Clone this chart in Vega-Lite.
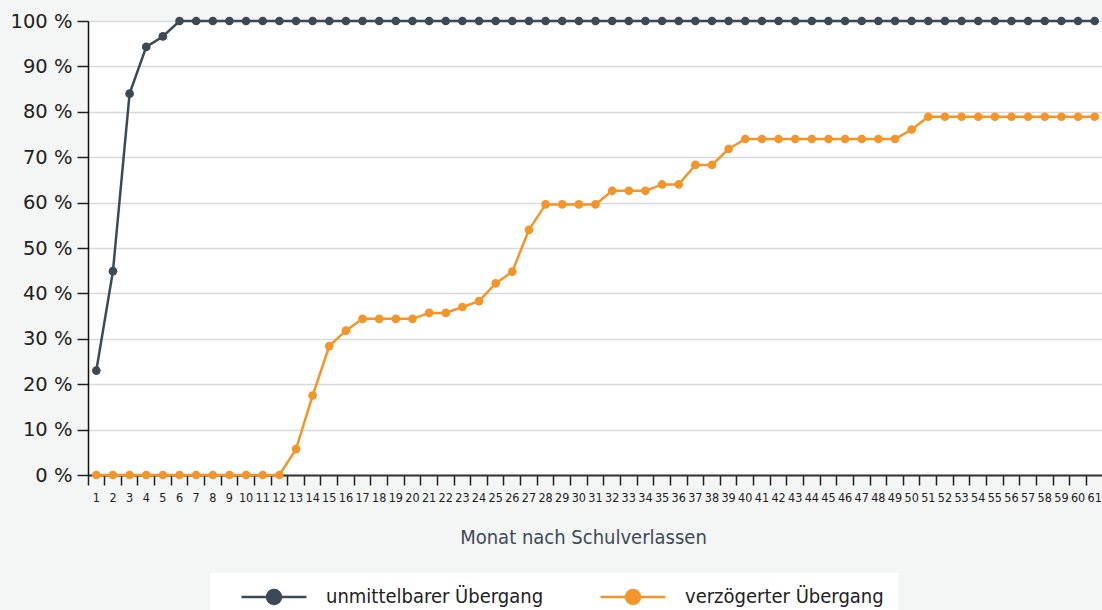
{
  "$schema": "https://vega.github.io/schema/vega-lite/v6.json",
  "autosize": {"type": "none"},
  "padding": {"left": 88, "top": 21, "right": 0, "bottom": 135},
  "width": 1015,
  "height": 454,
  "background": "#f4f5f5",
  "config": {
    "view": {"fill": "white", "stroke": "#222", "strokeWidth": 1},
    "font": "DejaVu Sans"
  },
  "data": {
    "values": [
      {"m": 1, "unmittelbarer Übergang": 23.0, "verzögerter Übergang": 0},
      {"m": 2, "unmittelbarer Übergang": 44.9, "verzögerter Übergang": 0},
      {"m": 3, "unmittelbarer Übergang": 84.0, "verzögerter Übergang": 0},
      {"m": 4, "unmittelbarer Übergang": 94.3, "verzögerter Übergang": 0},
      {"m": 5, "unmittelbarer Übergang": 96.6, "verzögerter Übergang": 0},
      {"m": 6, "unmittelbarer Übergang": 100, "verzögerter Übergang": 0},
      {"m": 7, "unmittelbarer Übergang": 100, "verzögerter Übergang": 0},
      {"m": 8, "unmittelbarer Übergang": 100, "verzögerter Übergang": 0},
      {"m": 9, "unmittelbarer Übergang": 100, "verzögerter Übergang": 0},
      {"m": 10, "unmittelbarer Übergang": 100, "verzögerter Übergang": 0},
      {"m": 11, "unmittelbarer Übergang": 100, "verzögerter Übergang": 0},
      {"m": 12, "unmittelbarer Übergang": 100, "verzögerter Übergang": 0},
      {"m": 13, "unmittelbarer Übergang": 100, "verzögerter Übergang": 5.7},
      {"m": 14, "unmittelbarer Übergang": 100, "verzögerter Übergang": 17.5},
      {"m": 15, "unmittelbarer Übergang": 100, "verzögerter Übergang": 28.4},
      {"m": 16, "unmittelbarer Übergang": 100, "verzögerter Übergang": 31.8},
      {"m": 17, "unmittelbarer Übergang": 100, "verzögerter Übergang": 34.4},
      {"m": 18, "unmittelbarer Übergang": 100, "verzögerter Übergang": 34.4},
      {"m": 19, "unmittelbarer Übergang": 100, "verzögerter Übergang": 34.4},
      {"m": 20, "unmittelbarer Übergang": 100, "verzögerter Übergang": 34.4},
      {"m": 21, "unmittelbarer Übergang": 100, "verzögerter Übergang": 35.7},
      {"m": 22, "unmittelbarer Übergang": 100, "verzögerter Übergang": 35.7},
      {"m": 23, "unmittelbarer Übergang": 100, "verzögerter Übergang": 37.0},
      {"m": 24, "unmittelbarer Übergang": 100, "verzögerter Übergang": 38.3},
      {"m": 25, "unmittelbarer Übergang": 100, "verzögerter Übergang": 42.2},
      {"m": 26, "unmittelbarer Übergang": 100, "verzögerter Übergang": 44.8},
      {"m": 27, "unmittelbarer Übergang": 100, "verzögerter Übergang": 54.0},
      {"m": 28, "unmittelbarer Übergang": 100, "verzögerter Übergang": 59.6},
      {"m": 29, "unmittelbarer Übergang": 100, "verzögerter Übergang": 59.6},
      {"m": 30, "unmittelbarer Übergang": 100, "verzögerter Übergang": 59.6},
      {"m": 31, "unmittelbarer Übergang": 100, "verzögerter Übergang": 59.6},
      {"m": 32, "unmittelbarer Übergang": 100, "verzögerter Übergang": 62.6},
      {"m": 33, "unmittelbarer Übergang": 100, "verzögerter Übergang": 62.6},
      {"m": 34, "unmittelbarer Übergang": 100, "verzögerter Übergang": 62.6},
      {"m": 35, "unmittelbarer Übergang": 100, "verzögerter Übergang": 64.0},
      {"m": 36, "unmittelbarer Übergang": 100, "verzögerter Übergang": 64.0},
      {"m": 37, "unmittelbarer Übergang": 100, "verzögerter Übergang": 68.3},
      {"m": 38, "unmittelbarer Übergang": 100, "verzögerter Übergang": 68.3},
      {"m": 39, "unmittelbarer Übergang": 100, "verzögerter Übergang": 71.8},
      {"m": 40, "unmittelbarer Übergang": 100, "verzögerter Übergang": 74.0},
      {"m": 41, "unmittelbarer Übergang": 100, "verzögerter Übergang": 74.0},
      {"m": 42, "unmittelbarer Übergang": 100, "verzögerter Übergang": 74.0},
      {"m": 43, "unmittelbarer Übergang": 100, "verzögerter Übergang": 74.0},
      {"m": 44, "unmittelbarer Übergang": 100, "verzögerter Übergang": 74.0},
      {"m": 45, "unmittelbarer Übergang": 100, "verzögerter Übergang": 74.0},
      {"m": 46, "unmittelbarer Übergang": 100, "verzögerter Übergang": 74.0},
      {"m": 47, "unmittelbarer Übergang": 100, "verzögerter Übergang": 74.0},
      {"m": 48, "unmittelbarer Übergang": 100, "verzögerter Übergang": 74.0},
      {"m": 49, "unmittelbarer Übergang": 100, "verzögerter Übergang": 74.0},
      {"m": 50, "unmittelbarer Übergang": 100, "verzögerter Übergang": 76.1},
      {"m": 51, "unmittelbarer Übergang": 100, "verzögerter Übergang": 78.9},
      {"m": 52, "unmittelbarer Übergang": 100, "verzögerter Übergang": 78.9},
      {"m": 53, "unmittelbarer Übergang": 100, "verzögerter Übergang": 78.9},
      {"m": 54, "unmittelbarer Übergang": 100, "verzögerter Übergang": 78.9},
      {"m": 55, "unmittelbarer Übergang": 100, "verzögerter Übergang": 78.9},
      {"m": 56, "unmittelbarer Übergang": 100, "verzögerter Übergang": 78.9},
      {"m": 57, "unmittelbarer Übergang": 100, "verzögerter Übergang": 78.9},
      {"m": 58, "unmittelbarer Übergang": 100, "verzögerter Übergang": 78.9},
      {"m": 59, "unmittelbarer Übergang": 100, "verzögerter Übergang": 78.9},
      {"m": 60, "unmittelbarer Übergang": 100, "verzögerter Übergang": 78.9},
      {"m": 61, "unmittelbarer Übergang": 100, "verzögerter Übergang": 78.9}
    ]
  },
  "transform": [
    {"fold": ["unmittelbarer Übergang", "verzögerter Übergang"], "as": ["Serie", "Wert"]}
  ],
  "encoding": {
    "x": {
      "field": "m",
      "type": "ordinal",
      "sort": "ascending",
      "scale": {"type": "band", "paddingInner": 0, "paddingOuter": 0},
      "axis": {
        "title": "Monat nach Schulverlassen",
        "titleFont": "DejaVu Sans Condensed",
        "titleFontSize": 20,
        "titleFontWeight": "normal",
        "titleColor": "#3d4a55",
        "titlePadding": 24,
        "titleX": 495,
        "labelAngle": 0,
        "labelOverlap": false,
        "labelFont": "DejaVu Sans Condensed",
        "labelFontSize": 12.5,
        "labelColor": "#222",
        "labelPadding": 6,
        "bandPosition": 0,
        "tickSize": 10,
        "tickColor": "#222",
        "tickWidth": 1.5,
        "domainColor": "#333",
        "domainWidth": 2,
        "grid": false
      }
    },
    "y": {
      "field": "Wert",
      "type": "quantitative",
      "scale": {"domain": [0, 100], "nice": false},
      "axis": {
        "title": null,
        "values": [0, 10, 20, 30, 40, 50, 60, 70, 80, 90, 100],
        "labelExpr": "datum.value + ' %'",
        "labelFont": "DejaVu Sans",
        "labelFontSize": 19.5,
        "labelColor": "#222",
        "labelPadding": 5,
        "tickSize": 11,
        "tickColor": "#222",
        "tickWidth": 1.5,
        "domainColor": "#111",
        "domainWidth": 1.5,
        "gridColor": "#d9d9d9",
        "gridWidth": 1.5
      }
    },
    "color": {
      "field": "Serie",
      "type": "nominal",
      "scale": {"domain": ["unmittelbarer Übergang", "verzögerter Übergang"], "range": ["#3c4a56", "#f4952a"]},
      "legend": {
        "title": null,
        "orient": "none",
        "legendX": 122,
        "legendY": 552,
        "direction": "horizontal",
        "fillColor": "white",
        "padding": 14,
        "symbolType": "M-4.64,0L4.64,0M-1,0A1,1 0 1,0 1,0A1,1 0 1,0 -1,0Z",
        "symbolSize": 196,
        "symbolStrokeWidth": 2.5,
        "symbolOffset": 40,
        "labelOffset": 42,
        "columnPadding": 39,
        "labelFont": "DejaVu Sans Condensed",
        "labelFontSize": 20,
        "labelColor": "#222",
        "labelLimit": 400,
        "symbolOpacity": 1,
        "encode": {
          "symbols": {
            "update": {
              "fill": {"scale": "color", "field": "value"},
              "stroke": {"scale": "color", "field": "value"},
              "opacity": {"value": 1}
            }
          }
        }
      }
    }
  },
  "layer": [
    {"mark": {"type": "line", "strokeWidth": 2.5}},
    {"mark": {"type": "point", "filled": true, "size": 75, "opacity": 1}}
  ]
}
